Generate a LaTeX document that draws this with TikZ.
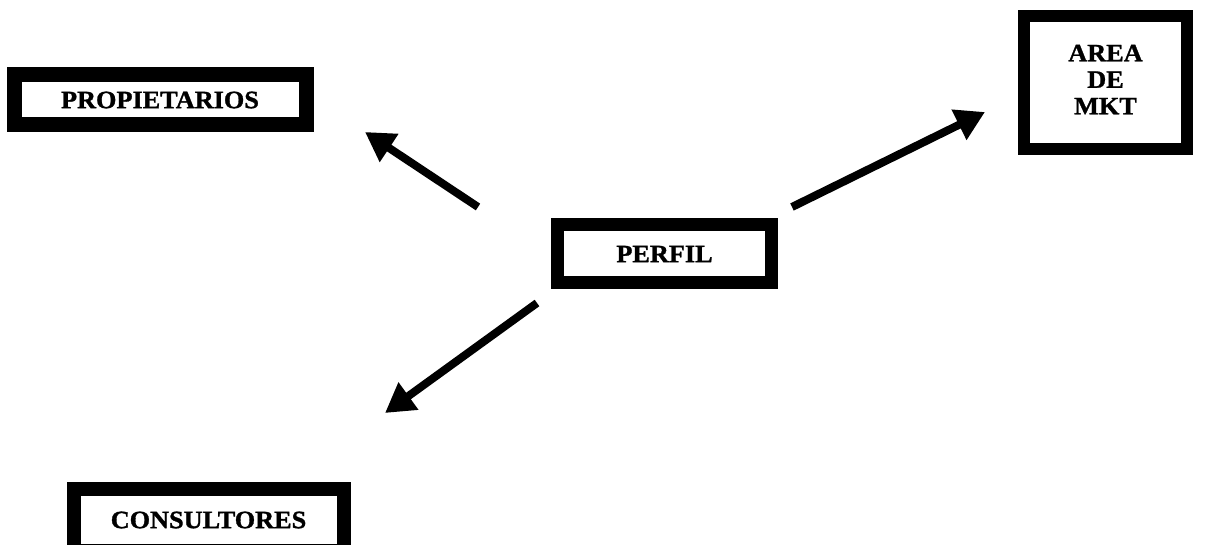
\documentclass[tikz,border=0pt]{standalone}
\usepackage{fontspec}
\setmainfont{Liberation Serif}[FakeStretch=1.05,FakeBold=1.2]
\usetikzlibrary{arrows.meta}
\begin{document}
\begin{tikzpicture}[x=1pt,y=-1pt,
  box/.style={draw=black,fill=white,inner sep=0pt,font=\fontsize{25}{26.5}\selectfont\bfseries,align=center},
  link/.style={line width=8pt,-{Triangle[length=29pt,width=32pt]}}]
\useasboundingbox (0,0) rectangle (1210,545);
\clip (0,0) rectangle (1210,545);
\fill[white] (0,0) rectangle (1210,545);

% the four boxes
\node[box,line width=15pt,minimum width=292pt,minimum height=50pt] (prop) at (160,100) {PROPIETARIOS};
\node[box,line width=12.5pt,minimum width=163pt,minimum height=133pt] (mkt) at (1105.5,82.5) {\raisebox{5pt}{\begin{tabular}{@{}c@{}}AREA\\DE\\MKT\end{tabular}}};
\node[box,line width=13pt,minimum width=214pt,minimum height=58pt] (perfil) at (664.5,254) {PERFIL};
\node[box,line width=14pt,minimum width=270pt,minimum height=62pt] (cons) at (208.5,520) {CONSULTORES};

% arrow ends
\coordinate (pA) at (478,207);
\coordinate (pB) at (537,303);
\coordinate (pC) at (792,207);
\coordinate (tA) at (365,132);
\coordinate (tB) at (385,413);
\coordinate (tC) at (985,112);

\draw[link] (pA) -- (tA);
\draw[link] (pB) -- (tB);
\draw[link] (pC) -- (tC);
\end{tikzpicture}
\end{document}
